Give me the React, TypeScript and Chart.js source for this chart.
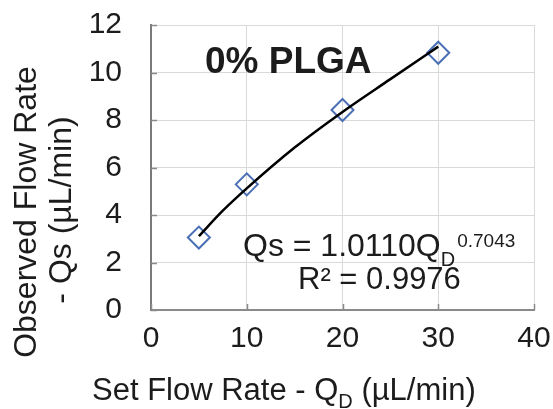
import React, { useEffect, useRef } from "react";
import { Chart, registerables } from "chart.js";

Chart.register(...registerables);

// ---- data ----
const setFlow = [5, 10, 20, 30];
const observedFlow = [3.05, 5.29, 8.42, 10.83];
const trendX = [5, 7.5, 10, 15, 20, 25, 30];
const trendY = [3.11, 4.18, 5.12, 6.84, 8.34, 9.72, 11.09];
const xTicks = [0, 10, 20, 30, 40];
const yTicks = [0, 2, 4, 6, 8, 10, 12];

const PANEL_LABEL = "0% PLGA";
const EQ_MAIN = "Qs = 1.0110Q";
const EQ_SUB = "D";
const EQ_SUP = "0.7043";
const R2_TEXT = "R² = 0.9976";
const X_TITLE_A = "Set Flow Rate - Q";
const X_TITLE_SUB = "D";
const X_TITLE_B = " (µL/min)";
const Y_TITLE = ["Observed Flow Rate", "- Qs (µL/min)"];

const FONT = "'Liberation Sans', Arial, sans-serif";
const TEXT = "#1c1c1c";

const textPlugin = {
  id: "texts",
  afterDraw(chart: any) {
    const { ctx, chartArea: ca } = chart;
    ctx.save();
    ctx.fillStyle = TEXT;
    ctx.textBaseline = "alphabetic";

    // inside tick marks
    ctx.strokeStyle = "#8a8a8a";
    ctx.lineWidth = 1.5;
    const xs = chart.scales.x;
    const ys = chart.scales.y;
    ctx.beginPath();
    for (const v of yTicks) {
      const p = Math.round(ys.getPixelForValue(v)) + 0.5;
      ctx.moveTo(ca.left, p);
      ctx.lineTo(ca.left + 6, p);
    }
    for (const v of xTicks) {
      const p = Math.round(xs.getPixelForValue(v)) + 0.5;
      ctx.moveTo(p, ca.bottom);
      ctx.lineTo(p, ca.bottom - 6);
    }
    ctx.stroke();

    // panel label
    ctx.textAlign = "left";
    ctx.font = `bold 37px ${FONT}`;
    ctx.fillText(PANEL_LABEL, ca.left + 54, ca.top + 48);

    // equation
    ctx.font = `32px ${FONT}`;
    const ex = ca.left + 92;
    const ey = ca.top + 231;
    ctx.fillText(EQ_MAIN, ex, ey);
    let w = ctx.measureText(EQ_MAIN).width;
    ctx.font = `20px ${FONT}`;
    ctx.fillText(EQ_SUB, ex + w, ey + 10);
    const wd = ctx.measureText(EQ_SUB).width;
    ctx.font = `19px ${FONT}`;
    ctx.fillText(EQ_SUP, ex + w + wd + 2, ey - 9);
    ctx.font = `31px ${FONT}`;
    ctx.fillText(R2_TEXT, ca.left + 147, ca.top + 264);

    // x title
    const tx = ca.left - 59;
    const ty = 400;
    ctx.font = `31px ${FONT}`;
    ctx.fillText(X_TITLE_A, tx, ty);
    w = ctx.measureText(X_TITLE_A).width;
    ctx.font = `20px ${FONT}`;
    ctx.fillText(X_TITLE_SUB, tx + w, ty + 8);
    const ws = ctx.measureText(X_TITLE_SUB).width;
    ctx.font = `31px ${FONT}`;
    ctx.fillText(X_TITLE_B, tx + w + ws, ty);

    // y title
    ctx.textAlign = "center";
    ctx.font = `32px ${FONT}`;
    ctx.save();
    ctx.translate(36, 212);
    ctx.rotate(-Math.PI / 2);
    ctx.fillText(Y_TITLE[0], 0, 0);
    ctx.restore();
    ctx.save();
    ctx.translate(71, 210);
    ctx.rotate(-Math.PI / 2);
    ctx.fillText(Y_TITLE[1], 0, 0);
    ctx.restore();

    ctx.restore();
  },
};

export default function App() {
  const ref = useRef<HTMLCanvasElement | null>(null);

  useEffect(() => {
    document.body.style.margin = "0";
    const canvas = ref.current!;
    const chart = new Chart(canvas, {
      type: "scatter",
      data: {
        datasets: [
          {
            label: PANEL_LABEL,
            data: setFlow.map((x, i) => ({ x, y: observedFlow[i] })),
            showLine: false,
            pointStyle: "rectRot",
            pointRadius: 11,
            pointBorderWidth: 2,
            pointBorderColor: "#4a6fb5",
            pointBackgroundColor: "rgba(255,255,255,0)",
            order: 2,
          },
          {
            label: "Trend",
            data: trendX.map((x, i) => ({ x, y: trendY[i] })),
            showLine: true,
            borderColor: "#000000",
            borderWidth: 2.5,
            pointRadius: 0,
            cubicInterpolationMode: "monotone",
            order: 1,
          },
        ],
      },
      options: {
        animation: false,
        responsive: false,
        maintainAspectRatio: false,
        layout: { padding: { left: 0, top: 25, right: 19, bottom: 0 } },
        plugins: {
          legend: { display: false },
          tooltip: { enabled: false },
          title: { display: false },
        },
        scales: {
          x: {
            type: "linear",
            min: 0,
            max: 40,
            afterBuildTicks: (s: any) => {
              s.ticks = xTicks.map((v) => ({ value: v }));
            },
            afterFit: (s: any) => {
              s.height = 99;
              s.paddingLeft = 0;
              s.paddingRight = 0;
            },
            ticks: {
              color: TEXT,
              font: { family: FONT, size: 30 },
              padding: 11,
              maxRotation: 0,
            },
            grid: { color: "#d9d9d9", lineWidth: 1, drawTicks: false },
            border: { color: "#8a8a8a", width: 2 },
          },
          y: {
            type: "linear",
            min: 0,
            max: 12,
            afterBuildTicks: (s: any) => {
              s.ticks = yTicks.map((v) => ({ value: v }));
            },
            afterFit: (s: any) => {
              s.width = 151;
              s.paddingTop = 0;
              s.paddingBottom = 0;
            },
            ticks: {
              color: TEXT,
              font: { family: FONT, size: 30 },
              padding: 29,
            },
            grid: { color: "#d9d9d9", lineWidth: 1, drawTicks: false },
            border: { color: "#7a7a7a", width: 2 },
          },
        },
      },
      plugins: [textPlugin],
    });
    return () => chart.destroy();
  }, []);

  return (
    <div style={{ width: 553, height: 409, background: "#ffffff" }}>
      <canvas ref={ref} width={553} height={409} style={{ display: "block" }} />
    </div>
  );
}
